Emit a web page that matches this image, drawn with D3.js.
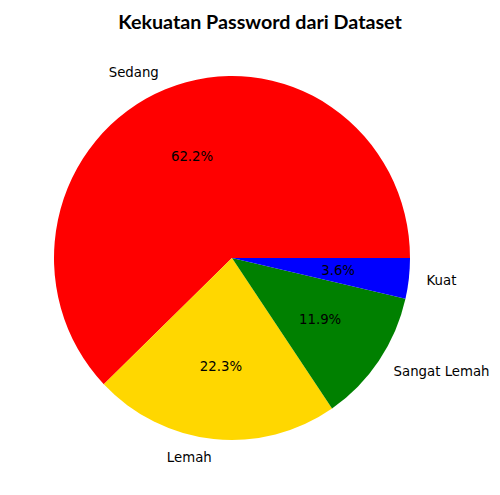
<!DOCTYPE html>
<html>
<head>
<meta charset="utf-8">
<script src="https://cdn.jsdelivr.net/npm/d3@7"></script>
<style>
html,body{margin:0;padding:0;background:#fff;}
svg{display:block;}
</style>
</head>
<body>
<svg id="chart" width="500" height="495"></svg>
<script>
const categories = ["Sedang", "Lemah", "Sangat Lemah", "Kuat"];
const values = [62.2, 22.3, 11.9, 3.6];
const colors = ["#ff0000", "#ffd700", "#008000", "#0000ff"];
const title = "Kekuatan Password dari Dataset";

const W = 500, H = 495;
const cx = 232, cy = 258, rx = 178, ry = 182;
const svg = d3.select("#chart");

const data = categories.map((c, i) => ({ name: c, value: values[i], color: colors[i] }));
const pie = d3.pie().value(d => d.value).sort(null)
  .startAngle(Math.PI / 2).endAngle(Math.PI / 2 - 2 * Math.PI);
const arcs = pie(data);
const arc = d3.arc().innerRadius(0).outerRadius(rx);

const g = svg.append("g").attr("transform", `translate(${cx},${cy}) scale(1,${ry / rx})`);
g.selectAll("path").data(arcs).join("path")
  .attr("d", arc)
  .attr("fill", d => d.data.color);

const fmt = d3.format(".1f");
const total = d3.sum(values);
function pos(a, f) {
  return [cx + f * rx * Math.sin(a), cy - f * ry * Math.cos(a)];
}

const lab = svg.append("g").attr("font-family", "DejaVu Sans").attr("font-size", 13.3).attr("fill", "#000");
arcs.forEach(d => {
  const mid = (d.startAngle + d.endAngle) / 2;
  const [lx, ly] = pos(mid, 1.1);
  lab.append("text")
    .attr("x", lx).attr("y", ly)
    .attr("dy", "0.35em")
    .attr("text-anchor", lx > cx ? "start" : "end")
    .text(d.data.name);
  const [px, py] = pos(mid, 0.6);
  lab.append("text")
    .attr("x", px).attr("y", py)
    .attr("dy", "0.35em")
    .attr("text-anchor", "middle")
    .text(fmt(d.data.value / total * 100) + "%");
});

const t = svg.append("text")
  .attr("x", 260).attr("y", 22)
  .attr("dy", "0.35em")
  .attr("text-anchor", "middle")
  .attr("font-family", "Lato, 'Open Sans', sans-serif")
  .attr("font-weight", "bold")
  .attr("font-size", 18)
  .attr("fill", "#000")
  .text(title);
const len = t.node().getComputedTextLength();
t.attr("font-size", 18 * 284 / len);
</script>
</body>
</html>
